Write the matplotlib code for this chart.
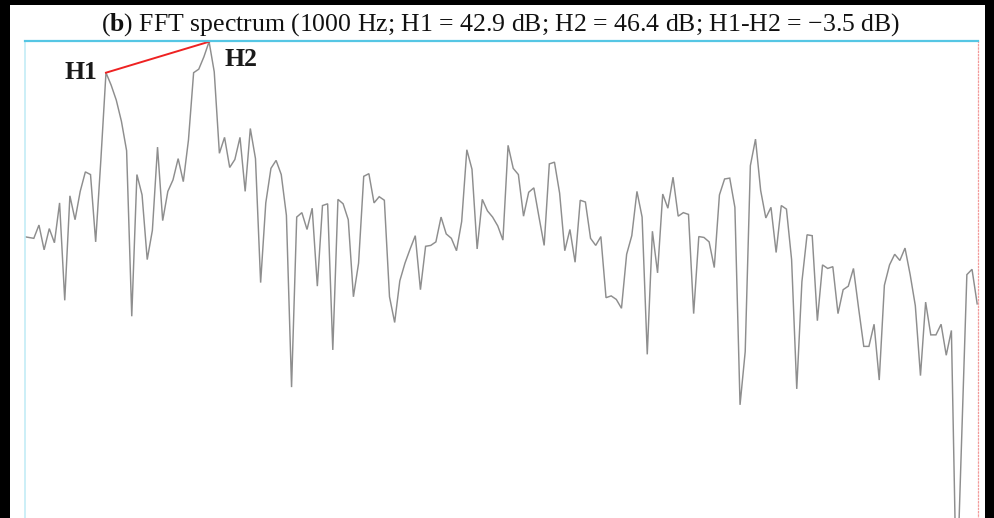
import numpy as np
import matplotlib
matplotlib.use("Agg")
import matplotlib.pyplot as plt
from matplotlib.patches import Rectangle

# FFT magnitude per bin (dB), read bin by bin
bins = np.arange(186)
level_db = [
    24.4, 24.3, 24.2, 25.7, 22.9, 25.3, 23.7, 28.2, 17.2, 29.0,
    26.3, 29.5, 31.7, 31.4, 23.8, 33.0, 42.9, 41.5, 39.8, 37.4,
    34.1, 15.4, 31.4, 29.1, 21.8, 25.1, 34.5, 26.2, 29.5, 30.8,
    33.2, 30.6, 35.3, 42.9, 43.3, 44.7, 46.4, 43.0, 33.8, 35.6,
    32.2, 33.1, 35.6, 29.5, 36.6, 33.2, 19.2, 28.2, 32.1, 33.0,
    31.4, 26.8, 7.4, 26.6, 27.1, 25.2, 27.6, 18.8, 27.9, 28.1,
    11.6, 28.6, 28.1, 26.3, 17.6, 21.4, 31.2, 31.5, 28.2, 28.9,
    28.5, 17.6, 14.7, 19.4, 21.4, 23.0, 24.5, 18.4, 23.3, 23.4,
    23.8, 26.6, 24.7, 24.2, 22.8, 26.1, 34.2, 32.0, 23.0, 28.6,
    27.3, 26.6, 25.6, 24.0, 34.7, 32.1, 31.4, 26.7, 29.4, 29.9,
    26.6, 23.4, 32.6, 32.8, 29.3, 22.8, 25.2, 21.5, 28.5, 28.3,
    24.2, 23.4, 24.4, 17.5, 17.7, 17.3, 16.3, 22.4, 24.5, 29.5,
    26.6, 11.1, 25.0, 20.3, 29.2, 27.6, 31.1, 26.7, 27.1, 26.9,
    15.7, 24.4, 24.3, 23.8, 20.9, 29.1, 30.9, 31.0, 27.7, 5.4,
    11.4, 32.4, 35.4, 29.6, 26.5, 27.7, 22.6, 27.9, 27.5, 21.8,
    7.2, 19.3, 24.6, 24.5, 14.9, 21.2, 20.8, 21.0, 15.7, 18.4,
    18.8, 20.8, 16.3, 12.0, 12.0, 14.5, 8.2, 18.9, 21.2, 22.4,
    21.7, 23.1, 20.1, 16.6, 8.7, 17.0, 13.3, 13.3, 14.5, 11.0,
    13.8, -16.6, 1.8, 20.1, 20.7, 16.8,
]
h1_bin, h1_db = 16, 42.9
h2_bin, h2_db = 36, 46.4

plt.rcParams["font.family"] = ["Liberation Serif", "DejaVu Serif"]
plt.rcParams["mathtext.fontset"] = "custom"
plt.rcParams["mathtext.rm"] = "Liberation Serif"
plt.rcParams["mathtext.bf"] = "Liberation Serif:bold"

fig = plt.figure(figsize=(9.94, 5.18), dpi=100)
W, H = 994, 518
# axes box in pixels: left 25, right 978, top 40.5, bottom 560 (runs off the page)
ax = fig.add_axes([25 / W, (H - 560) / H, (978 - 25) / W, (560 - 40.5) / H])

ax.plot(bins, level_db, color="#8e8e8e", lw=1.05, solid_joinstyle="miter")
ax.plot([h1_bin, h2_bin], [h1_db, h2_db], color="#ee2222", lw=1.4)

px_per_db = 31 / 3.5
top = h2_db + 1.2 / px_per_db
ax.set_ylim(top - 519.5 / px_per_db, top)
ax.set_xlim((25 - 23.5) / 5.155, (978 - 23.5) / 5.155)

ax.set_xticks([])
ax.set_yticks([])
ax.spines["top"].set_color("#55c6e4")
ax.spines["top"].set_linewidth(1.6)
ax.spines["left"].set_color("#c4ecf6")
ax.spines["left"].set_linewidth(1.2)
ax.spines["right"].set_color("#f39a9a")
ax.spines["right"].set_linestyle(":")
ax.spines["right"].set_linewidth(0.9)
ax.spines["bottom"].set_visible(False)

ax.annotate("H1", (h1_bin, h1_db), xytext=(-18, 0), textcoords="offset points",
            ha="center", va="center", fontsize=18.5, fontweight="bold", color="#1a1a1a")
ax.annotate("H2", (h2_bin, h2_db), xytext=(23, -13), textcoords="offset points",
            ha="center", va="center", fontsize=18.5, fontweight="bold", color="#1a1a1a")

fig.text(501 / W, 1 - 25 / H,
         r"($\mathbf{b}$) FFT spectrum (1000 Hz; H1 = 42.9 dB; H2 = 46.4 dB; H1-H2 = −3.5 dB)",
         ha="center", va="center", fontsize=18.5, color="#111111")

# black frame around the panel
for x0, y0, w, h in [(0, 0, 10, H), (985, 0, 9, H), (0, H - 5, W, 5)]:
    fig.add_artist(Rectangle((x0 / W, y0 / H), w / W, h / H, transform=fig.transFigure,
                             color="black", lw=0))

fig.savefig("out.png", dpi=100)
